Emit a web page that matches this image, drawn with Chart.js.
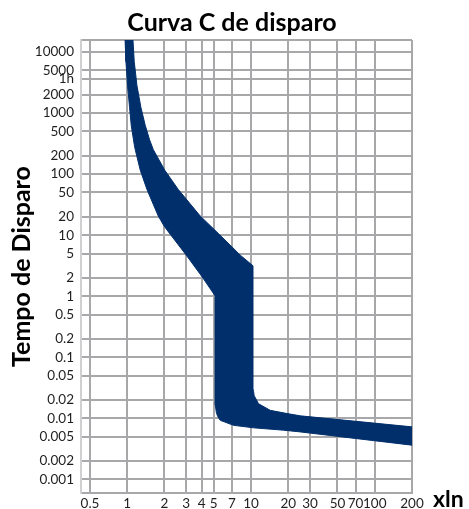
<!DOCTYPE html>
<html>
<head>
<meta charset="utf-8">
<script src="https://cdn.jsdelivr.net/npm/chart.js@4.4.1/dist/chart.umd.min.js"></script>
<style>
    html, body { margin: 0; padding: 0; background: #fff; }
    #wrap { position: relative; width: 469px; height: 509px; }
</style>
</head>
<body>
<div id="wrap"><canvas id="tripChart" width="469" height="509"></canvas></div>
<script>
const xTicks = [0.5, 1, 2, 3, 4, 5, 7, 10, 20, 30, 50, 70, 100, 200];
const yTicks = [10000, 5000, 3600, 2000, 1000, 500, 200, 100, 50, 20, 10, 5, 2, 1,
    0.5, 0.2, 0.1, 0.05, 0.02, 0.01, 0.005, 0.002, 0.001];
const yTickLabels = ['10000', '5000', '1h', '2000', '1000', '500', '200', '100', '50', '20', '10', '5', '2', '1',
    '0.5', '0.2', '0.1', '0.05', '0.02', '0.01', '0.005', '0.002', '0.001'];

// fast edge of the band (left / lower), from the top down to 200 xIn
const minCurrent = [0.96, 0.976, 1.006, 1.044, 1.077, 1.139, 1.16, 1.274, 1.443, 1.781, 1.991, 2.226, 3.0, 4.04, 5.15,
    5.15, 5.25, 5.39, 5.64, 7.23, 10.5, 18.4, 25.1, 200];
const minTime = [16000, 6950, 2820, 1233, 628, 304, 252, 116, 56.1, 20.6, 13.97, 10.34, 4.7, 2.06, 1.0,
    0.0164, 0.0124, 0.0107, 0.0093, 0.0077, 0.0070, 0.0064, 0.0060, 0.00364];

// slow edge of the band (right / upper), same direction
const maxCurrent = [1.112, 1.139, 1.198, 1.29, 1.398, 1.515, 1.623, 2.01, 2.584, 3.89, 5.44, 8.2, 10.38,
    10.38, 10.5, 10.6, 11.5, 14.3, 19.56, 25.1, 200];
const maxTime = [16000, 6950, 2820, 1233, 628, 366, 252, 116, 56.1, 20.6, 10.7, 4.7, 3.15,
    0.0306, 0.0275, 0.0236, 0.0174, 0.01355, 0.012, 0.011, 0.00726];

const bandColor = '#002f6c';
const gridColor = '#a8a8aa';
const labelFont = { family: 'Lato', size: 13.5 };

const minEdge = minCurrent.map((x, i) => ({ x, y: minTime[i] }));
const maxEdge = maxCurrent.map((x, i) => ({ x, y: maxTime[i] }));
const band = minEdge.concat(maxEdge.reverse());

// title and the "xln" unit are placed by hand, the reference centres them off the plot
const extraText = {
    id: 'extraText',
    afterDraw(chart) {
        const ctx = chart.ctx;
        ctx.save();
        ctx.fillStyle = '#000';
        ctx.textBaseline = 'alphabetic';
        ctx.font = 'bold 25px Lato';
        ctx.textAlign = 'center';
        ctx.fillText('Curva C de disparo', 232, 31);
        ctx.font = 'bold 23px Lato';
        ctx.textAlign = 'left';
        ctx.fillText('xln', 433, 507);
        ctx.restore();
    },
};

new Chart(document.getElementById('tripChart'), {
    type: 'line',
    data: {
        datasets: [{
            label: 'Curva C',
            data: band,
            backgroundColor: bandColor,
            borderColor: bandColor,
            borderWidth: 1,
            pointRadius: 0,
            tension: 0,
            fill: 'shape',
        }],
    },
    options: {
        responsive: false,
        animation: false,
        devicePixelRatio: 1,
        layout: { padding: { left: 0, right: 57, top: 40, bottom: 0 } },
        plugins: {
            legend: { display: false },
            tooltip: { enabled: false },
            title: { display: false },
        },
        scales: {
            x: {
                type: 'logarithmic',
                min: 0.423,
                max: 200,
                afterBuildTicks: (scale) => {
                    scale.ticks = xTicks.map((value) => ({ value }));
                },
                afterFit: (scale) => {
                    scale.height = 16;
                },
                ticks: {
                    autoSkip: false,
                    maxRotation: 0,
                    padding: 3,
                    color: '#1f1f1f',
                    font: labelFont,
                    callback: (value) => String(value),
                },
                grid: { color: gridColor, lineWidth: 2, drawTicks: false },
                border: { color: gridColor, width: 2 },
            },
            y: {
                type: 'logarithmic',
                min: 0.000637,
                max: 15700,
                afterBuildTicks: (scale) => {
                    scale.ticks = yTicks.map((value) => ({ value })).concat([{ value: 15700 }]);
                },
                afterFit: (scale) => {
                    scale.width = 81;
                },
                ticks: {
                    autoSkip: false,
                    padding: 7,
                    color: '#1f1f1f',
                    font: labelFont,
                    callback: (value) => {
                        const i = yTicks.indexOf(value);
                        return i >= 0 ? yTickLabels[i] : '';
                    },
                },
                grid: { color: gridColor, lineWidth: 2, drawTicks: false },
                border: { color: '#d0d0d2', width: 2 },
                title: {
                    display: true,
                    text: 'Tempo de Disparo',
                    color: '#000',
                    font: { family: 'Lato', size: 25, weight: 'bold' },
                    padding: { top: 7, bottom: 0 },
                },
            },
        },
    },
    plugins: [extraText],
});
</script>
</body>
</html>
